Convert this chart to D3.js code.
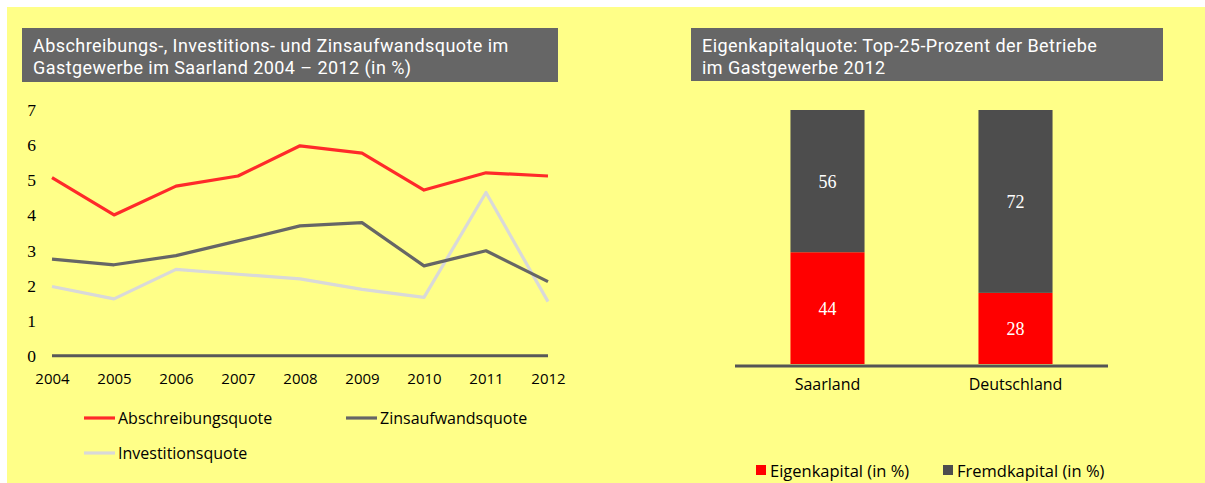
<!DOCTYPE html>
<html>
<head>
<meta charset="utf-8">
<script src="https://cdn.jsdelivr.net/npm/d3@7/dist/d3.min.js"></script>
<style>
  html, body { margin: 0; padding: 0; background: #ffffff; }
  svg { display: block; }
  .sans { font-family: "Open Sans", "Noto Sans", sans-serif; }
  .title { font-family: Roboto, "Open Sans", sans-serif; }
  .serif { font-family: "Liberation Serif", "DejaVu Serif", serif; }
</style>
</head>
<body>
<svg id="chart" width="1205" height="483"></svg>
<script>
// Left panel: ratios in the hospitality sector, Saarland 2004–2012 (in %)
const years = [2004, 2005, 2006, 2007, 2008, 2009, 2010, 2011, 2012];
const abschreibungsquote = [5.07, 4.01, 4.83, 5.12, 5.98, 5.77, 4.72, 5.21, 5.12];
const zinsaufwandsquote = [2.75, 2.59, 2.85, 3.27, 3.70, 3.79, 2.56, 2.99, 2.11];
const investitionsquote = [1.97, 1.62, 2.46, 2.32, 2.19, 1.89, 1.66, 4.65, 1.54];
const yTicks = [0, 1, 2, 3, 4, 5, 6, 7];

// Right panel: equity ratio of the top 25 % of businesses, 2012
const regions = ["Saarland", "Deutschland"];
const eigenkapital = [44, 28];
const fremdkapital = [56, 72];

const svg = d3.select("#chart");

// yellow page background
svg.append("rect").attr("x", 7).attr("y", 7).attr("width", 1198).attr("height", 476)
  .attr("fill", "#ffff88");

// ---- title boxes ----
// two-line white heading on a grey box; letter spacing is widened so the
// first line spans `lineWidth` pixels
function titleBox(x, y, w, h, lines, lineWidth) {
  svg.append("rect").attr("x", x).attr("y", y).attr("width", w).attr("height", h)
    .attr("fill", "#666666");
  const texts = lines.map((s, i) =>
    svg.append("text").attr("class", "title").attr("fill", "#ffffff")
      .attr("font-size", 18)
      .attr("x", x + 11).attr("y", y + 24 + i * 21.5).text(s));
  const natural = texts[0].node().getComputedTextLength();
  const spacing = Math.max(0, (lineWidth - natural) / (lines[0].length - 1));
  texts.forEach(t => t.attr("letter-spacing", spacing.toFixed(2)));
}
titleBox(22, 28, 536, 54, [
  "Abschreibungs-, Investitions- und Zinsaufwandsquote im",
  "Gastgewerbe im Saarland 2004 \u2013 2012 (in %)"
], 475);
titleBox(691, 28, 472, 53, [
  "Eigenkapitalquote: Top-25-Prozent der Betriebe",
  "im Gastgewerbe 2012"
], 395);

// ---- left line chart ----
const x = d3.scalePoint().domain(years).range([52, 548]);
const y = d3.scaleLinear().domain([0, 7]).range([355.7, 110]);

const left = svg.append("g");

// y tick labels (no axis line)
const yAxis = d3.axisLeft(y).tickValues(yTicks).tickSize(0).tickPadding(0)
  .tickFormat(d3.format("d"));
left.append("g").attr("transform", "translate(36,0)").call(yAxis)
  .call(g => g.select(".domain").remove())
  .selectAll("text").attr("class", "serif").attr("font-size", 17.5)
  .attr("fill", "#000").attr("font-family", null);

// x tick labels
const xAxis = d3.axisBottom(x).tickSize(0).tickPadding(0).tickFormat(d3.format("d"));
left.append("g").attr("transform", "translate(0,373)").call(xAxis)
  .call(g => g.select(".domain").remove())
  .selectAll("text").attr("class", "sans").attr("font-size", 15)
  .attr("fill", "#000").attr("font-family", null);

// zero baseline
left.append("line")
  .attr("x1", x(years[0])).attr("x2", x(years[years.length - 1]))
  .attr("y1", y(0)).attr("y2", y(0))
  .attr("stroke", "#595959").attr("stroke-width", 3);

const series = [
  { name: "Abschreibungsquote", values: abschreibungsquote, color: "#ff2a2a" },
  { name: "Zinsaufwandsquote", values: zinsaufwandsquote, color: "#666666" },
  { name: "Investitionsquote", values: investitionsquote, color: "#d9d9d9" }
];

const line = d3.line().x((d, i) => x(years[i])).y(d => y(d));
// draw light grey first so it stays behind where lines cross
[series[2], series[1], series[0]].forEach(s => {
  left.append("path").datum(s.values)
    .attr("d", line).attr("fill", "none")
    .attr("stroke", s.color).attr("stroke-width", 3.2)
    .attr("stroke-linejoin", "round");
});

// legend
const legendPos = [
  { sx: 84, y: 418 }, { sx: 346, y: 418 }, { sx: 84, y: 453 }
];
series.forEach((s, i) => {
  const p = legendPos[i];
  left.append("line").attr("x1", p.sx).attr("x2", p.sx + 31)
    .attr("y1", p.y).attr("y2", p.y)
    .attr("stroke", s.color).attr("stroke-width", 3.2);
  left.append("text").attr("class", "sans").attr("font-size", 16)
    .attr("x", p.sx + 34).attr("y", p.y + 6).attr("fill", "#000").text(s.name);
});

// ---- right stacked bar chart ----
const xb = d3.scaleBand().domain(regions).range([735, 1108])
  .paddingInner(0.606).paddingOuter(0.295);
const yb = d3.scaleLinear().domain([0, 100]).range([364, 110]);

const right = svg.append("g");
const stackData = regions.map((r, i) => ({ region: r, Eigenkapital: eigenkapital[i], Fremdkapital: fremdkapital[i] }));
const stack = d3.stack().keys(["Eigenkapital", "Fremdkapital"])(stackData);
const barColors = { Eigenkapital: "#ff0000", Fremdkapital: "#4d4d4d" };

stack.forEach(layer => {
  right.selectAll(null).data(layer).enter().append("rect")
    .attr("x", d => xb(d.data.region))
    .attr("width", xb.bandwidth())
    .attr("y", d => yb(d[1]))
    .attr("height", d => yb(d[0]) - yb(d[1]))
    .attr("fill", barColors[layer.key]);
  right.selectAll(null).data(layer).enter().append("text")
    .attr("class", "serif").attr("font-size", 18).attr("fill", "#ffffff")
    .attr("text-anchor", "middle")
    .attr("x", d => xb(d.data.region) + xb.bandwidth() / 2)
    .attr("y", d => (yb(d[0]) + yb(d[1])) / 2 + 6.5)
    .text(d => d.data[layer.key]);
});

// baseline
right.append("line").attr("x1", 735).attr("x2", 1108)
  .attr("y1", 366).attr("y2", 366)
  .attr("stroke", "#555555").attr("stroke-width", 3);

// category labels
const xbAxis = d3.axisBottom(xb).tickSize(0).tickPadding(0);
right.append("g").attr("transform", "translate(0,379)").call(xbAxis)
  .call(g => g.select(".domain").remove())
  .selectAll("text").attr("class", "sans").attr("font-size", 16)
  .attr("fill", "#000").attr("font-family", null);

// legend
const barLegend = [
  { key: "Eigenkapital", label: "Eigenkapital (in %)", x: 756 },
  { key: "Fremdkapital", label: "Fremdkapital (in %)", x: 943 }
];
barLegend.forEach(l => {
  right.append("rect").attr("x", l.x).attr("y", 465).attr("width", 10).attr("height", 10)
    .attr("fill", barColors[l.key]);
  right.append("text").attr("class", "sans").attr("font-size", 16.5)
    .attr("x", l.x + 14).attr("y", 477).attr("fill", "#000").text(l.label);
});
</script>
</body>
</html>
